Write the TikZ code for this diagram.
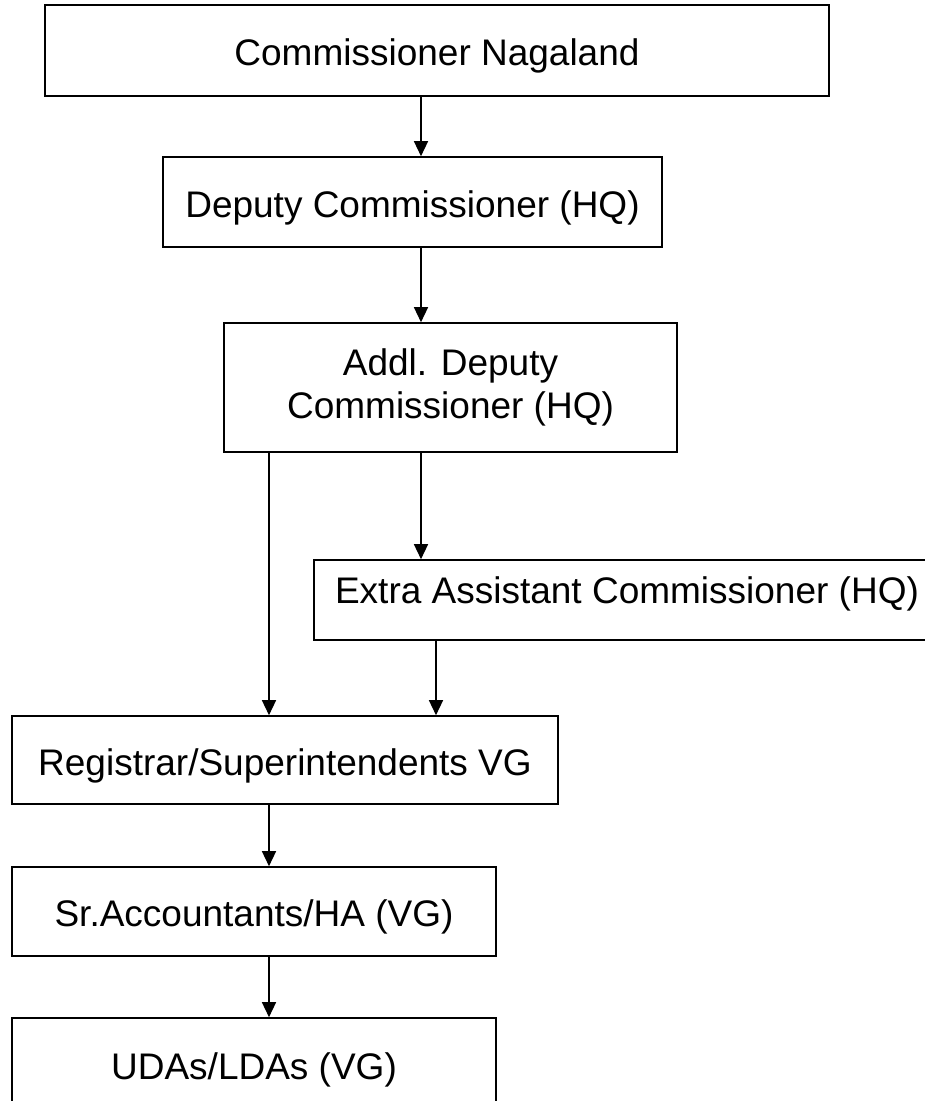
\documentclass[tikz,border=0pt]{standalone}
\usepackage{fontspec}
\setmainfont{Liberation Sans}
\usetikzlibrary{arrows.meta}
\begin{document}
\begin{tikzpicture}[x=1pt,y=-1pt,
  orgbox/.style={draw=black, line width=1.6pt, rectangle, inner sep=0pt, fill=white,
    font=\fontsize{37}{43}\selectfont, align=center},
  oneline/.style={text height=30pt, text depth=0pt},
  arr/.style={line width=1.4pt, -{Triangle[length=15pt,width=14pt]}}]
\clip (0,0) rectangle (925,1101);
\fill[white] (0,0) rectangle (925,1101);
\node[orgbox, oneline, minimum width=784pt, minimum height=91pt] (b1) at (437,50.5) {Commissioner Nagaland};
\node[orgbox, oneline, minimum width=499pt, minimum height=90pt] (b2) at (412.5,202) {Deputy Commissioner (HQ)};
\node[orgbox, minimum width=453pt, minimum height=129pt] (b3) at (450.5,387.5) {Addl. Deputy\\Commissioner (HQ)};
\node[orgbox, oneline, minimum width=626pt, minimum height=80pt] (b4) at (627,600) {\raisebox{12pt}[\height][\depth]{Extra Assistant Commissioner (HQ)}};
\node[orgbox, oneline, minimum width=546pt, minimum height=88pt] (b5) at (285,760) {Registrar/Superintendents VG};
\node[orgbox, oneline, minimum width=484pt, minimum height=89pt] (b6) at (254,911.5) {Sr.Accountants/HA (VG)};
\node[orgbox, oneline, minimum width=484pt, minimum height=92pt] (b7) at (254,1064) {UDAs/LDAs (VG)};
\coordinate (xa) at (421,0);
\coordinate (xb) at (269,0);
\coordinate (xc) at (436,0);
\draw[arr] (b1.south -| xa) -- (b2.north -| xa);
\draw[arr] (b2.south -| xa) -- (b3.north -| xa);
\draw[arr] (b3.south -| xa) -- (b4.north -| xa);
\draw[arr] (b3.south -| xb) -- (b5.north -| xb);
\draw[arr] (b4.south -| xc) -- (b5.north -| xc);
\draw[arr] (b5.south -| xb) -- (b6.north -| xb);
\draw[arr] (b6.south -| xb) -- (b7.north -| xb);
\end{tikzpicture}
\end{document}
